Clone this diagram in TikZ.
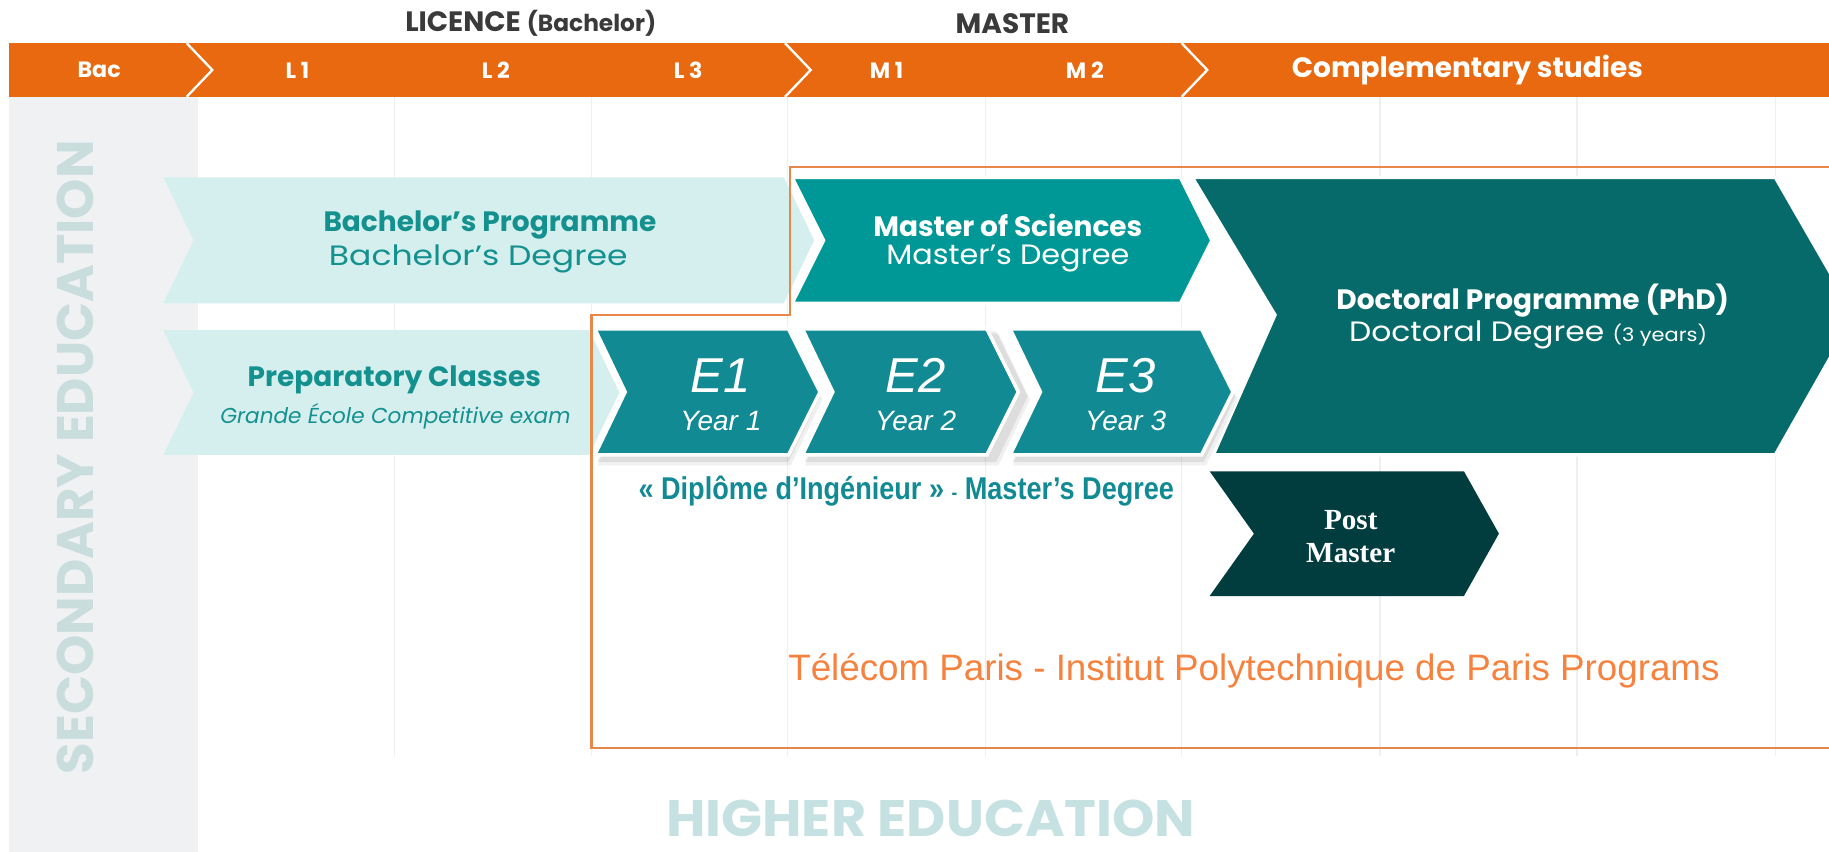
\documentclass[tikz,border=0pt]{standalone}
\usepackage{fontspec}
\usepackage{graphicx}
\newfontfamily\gothic{Poppins}
\newfontfamily\arialf{Liberation Sans}
\newfontfamily\seriff{Liberation Serif}
\definecolor{barorange}{HTML}{E8690F}
\definecolor{colgrey}{HTML}{EFF1F3}
\definecolor{gridc}{HTML}{EDEFF0}
\definecolor{lightcyan}{HTML}{D5EFEF}
\definecolor{tealtext}{HTML}{14918F}
\definecolor{ecol}{HTML}{118A94}
\definecolor{mscol}{HTML}{009797}
\definecolor{doccol}{HTML}{076A6A}
\definecolor{pmcol}{HTML}{013C3F}
\definecolor{outl}{HTML}{E5884A}
\definecolor{tporange}{HTML}{F5823F}
\definecolor{secgrey}{HTML}{C9DDDD}
\definecolor{higher}{HTML}{C6E1E1}
\definecolor{darkhead}{HTML}{3A3A3A}
% options, xl, xr, ytop, ybottom, notch depth, point depth
\newcommand\chevron[7]{%
  \fill[#1] (#2,#4) -- (#3,#4) -- ({#3+#7},{(#4+#5)/2}) -- (#3,#5) -- (#2,#5) -- ({#2+#6},{(#4+#5)/2}) -- cycle;}
\newcommand\hstretch[2]{\scalebox{#1}[1]{#2}}
\tikzset{
  hdr/.style={text=white,font=\gothic\bfseries\fontsize{19}{19}\selectfont,inner sep=0pt},
  toplab/.style={text=darkhead,font=\gothic\bfseries\fontsize{24}{24}\selectfont,inner sep=0pt},
  bt/.style={text=tealtext,font=\gothic\bfseries\fontsize{24}{24}\selectfont,inner sep=0pt},
  rt/.style={text=tealtext,font=\gothic\fontsize{24}{24}\selectfont,inner sep=0pt},
  itt/.style={text=tealtext,font=\gothic\itshape\fontsize{18.5}{18.5}\selectfont,inner sep=0pt},
  wbt/.style={text=white,font=\gothic\bfseries\fontsize{24}{24}\selectfont,inner sep=0pt},
  wrt/.style={text=white,font=\gothic\fontsize{24}{24}\selectfont,inner sep=0pt},
  enum/.style={text=white,font=\arialf\itshape\fontsize{42}{42}\selectfont,inner sep=0pt},
  eyear/.style={text=white,font=\arialf\itshape\fontsize{24}{24}\selectfont,inner sep=0pt},
  pmt/.style={text=white,font=\seriff\bfseries\fontsize{25}{28}\selectfont,inner sep=0pt,align=center},
  biglab/.style={font=\gothic\bfseries\fontsize{44}{44}\selectfont,inner sep=0pt},
}
\begin{document}
\begin{tikzpicture}[x=1pt,y=-1pt]
\useasboundingbox (0,0) rectangle (1568,730);
\fill[white] (0,0) rectangle (1568,730);
% grid lines
\foreach \gx in {338,507,675,845,1013,1183,1352,1522} \draw[gridc,line width=1.2] (\gx,83) -- (\gx,648);
% grey column
\fill[colgrey] (8,83) rectangle (170,730);
\node[biglab,text=secgrey,rotate=90] (sec) at (65,392) {SECONDARY EDUCATION};
% header bar
\fill[barorange] (8,37) rectangle (1568,83);
\foreach \sx in {160,673,1013} \draw[white,line width=2] (\sx,37) -- ({\sx+22},60) -- (\sx,83);
\node[toplab] (lic) at (455,20) {LICENCE {\fontsize{20}{20}\selectfont(Bachelor)}};
\node[toplab] (mas) at (868,20) {MASTER};
\node[hdr] (bac) at (85,60) {Bac};
\node[hdr] (l1) at (255,60) {L 1};
\node[hdr] (l2) at (425,60) {L 2};
\node[hdr] (l3) at (590,60) {L 3};
\node[hdr] (m1) at (760,60) {M 1};
\node[hdr] (m2) at (930,60) {M 2};
\node[hdr,font=\gothic\bfseries\fontsize{24}{24}\selectfont] (cs) at (1258,60) {Complementary studies};
% light chevrons
\chevron{lightcyan}{140}{672}{152}{260}{26}{26}
\chevron{lightcyan}{140}{505}{283}{390}{26}{26}
% master of sciences
\chevron{mscol,draw=white,line width=3}{679}{1012}{152}{260}{27}{27}
% doctoral
\fill[doccol,draw=white,line width=3] (1022,152) -- (1522,152) -- (1590,270) -- (1522,390) -- (1040,390) -- (1093,270) -- cycle;
% shadows of E chevrons
\foreach \ex in {510,688,866} {
  \chevron{black,opacity=0.06}{\ex+2}{\ex+168}{286}{399}{26}{27}
  \chevron{black,opacity=0.08}{\ex+2}{\ex+166}{284}{396}{26}{27}
}
\chevron{ecol,draw=white,line width=3}{510}{676}{282}{390}{26}{27}
\chevron{ecol,draw=white,line width=3}{688}{846}{282}{390}{26}{27}
\chevron{ecol,draw=white,line width=3}{866}{1030}{282}{390}{26}{27}
% post master
\chevron{pmcol}{1037}{1255}{404}{511}{38}{30}
% orange outline
\draw[outl,line width=2] (1572,143) -- (677,143) -- (677,270) -- (507,270) -- (507,641) -- (1572,641);
% texts
\node[bt] (bp) at (420,193) {Bachelor’s Programme};
\node[rt] (bd) at (410,222) {\hstretch{1.18}{Bachelor’s Degree}};
\node[bt] (pc) at (338,326) {Preparatory Classes};
\node[itt] (ge) at (339,357) {Grande École Competitive exam};
\node[wbt] (ms) at (864,193) {Master of Sciences};
\node[wrt] (md) at (864,222) {\hstretch{1.08}{Master’s Degree}};
\node[wbt] (dp) at (1314,258) {Doctoral Programme (PhD)};
\node[wrt] (dd) at (1310,287) {\hstretch{1.12}{Doctoral Degree {\fontsize{16}{16}\selectfont(3 years)}}};
\node[enum] (e1) at (618,322) {E1};
\node[eyear] (y1) at (618,361) {Year 1};
\node[enum] (e2) at (785,322) {E2};
\node[eyear] (y2) at (785,361) {Year 2};
\node[enum] (e3) at (965,322) {E3};
\node[eyear] (y3) at (965,361) {Year 3};
\node[pmt] (pm) at (1158,460) {Post\\Master};
\node[text=ecol,font=\arialf\bfseries\fontsize{27}{27}\selectfont,inner sep=0pt] (dip) at (777,421) {\hstretch{0.86}{« Diplôme d’Ingénieur » {\fontsize{17}{17}\selectfont-} Master’s Degree}};
\node[text=tporange,font=\arialf\fontsize{31.5}{31.5}\selectfont,inner sep=0pt] (tp) at (1075,575) {Télécom Paris - Institut Polytechnique de Paris Programs};
\node[biglab,text=higher,anchor=base] (he) at (798,717) {\hstretch{1.05}{HIGHER EDUCATION}};
\end{tikzpicture}
\end{document}
